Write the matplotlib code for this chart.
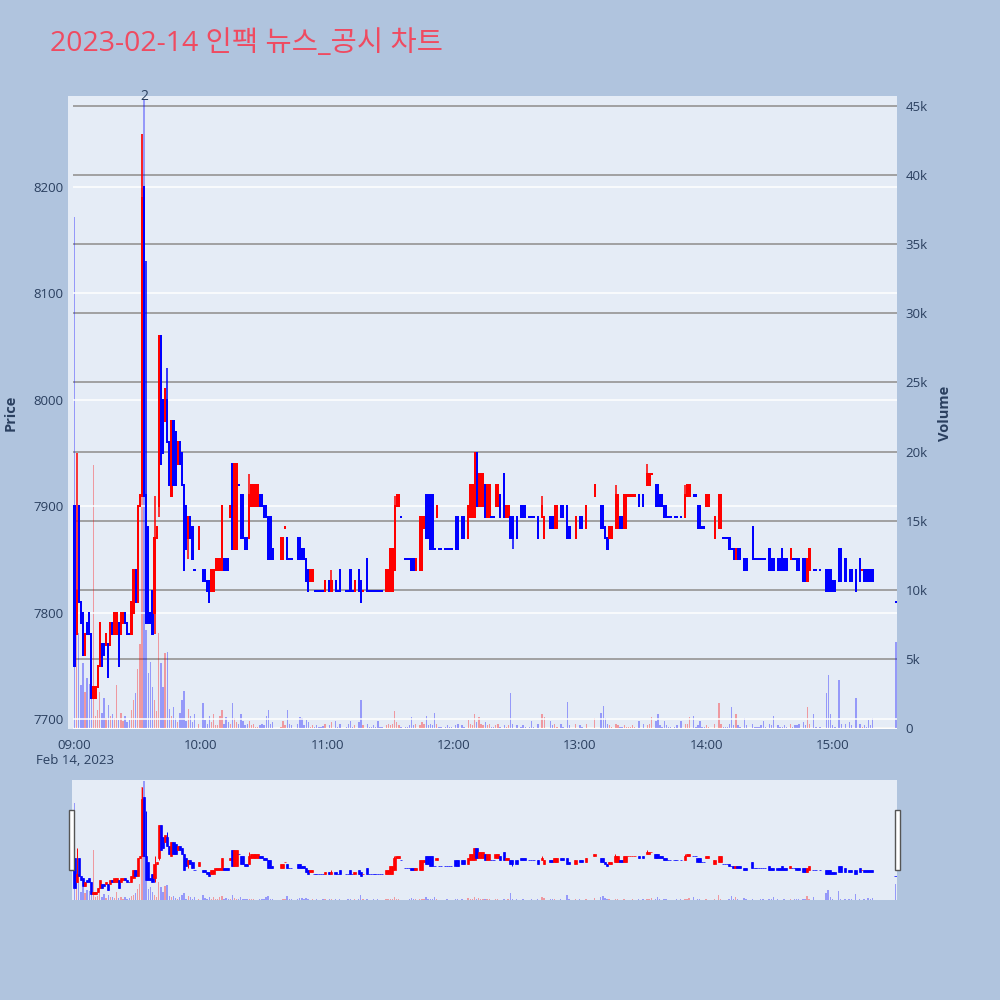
import numpy as np
import matplotlib
matplotlib.use("Agg")
import matplotlib.pyplot as plt
import matplotlib.transforms as mtransforms
from matplotlib.patches import Rectangle
from matplotlib.ticker import FuncFormatter

plt.rcParams["font.family"] = ["Open Sans", "Noto Sans CJK KR", "DejaVu Sans"]

TITLE = "2023-02-14 인팩 뉴스_공시 차트"

# one entry per minute, index 0 = 09:00 (None = no trade in that minute)
opens = [
    7900, 7780, 7900, 7810, 7800, 7760, 7790, 7800, 7780, 7720,
    7720, 7730, 7750, 7770, 7770, 7770, 7770, 7770, 7790, 7780,
    7780, 7790, 7780, 7790, 7800, 7790, 7780, 7780, 7800, 7840,
    7810, 7900, 7910, 8200, 7910, 7880, 7800, 7820, 7800, 7870,
    7900, 8060, 8000, 7980, 8000, 7960, 7910, 7980, 7970, 7940,
    7960, 7950, 7920, 7900, 7870, 7890, 7880, 7840, None, 7860,
    None, 7840, 7840, 7830, 7830, 7820, 7820, 7840, 7840, 7840,
    7840, 7850, 7850, 7850, 7890, 7940, 7860, 7860, 7920, 7910,
    7910, 7870, 7870, 7870, 7900, 7900, 7900, 7900, 7910, 7910,
    7900, 7900, 7890, 7890, 7860, None, None, None, 7850, 7850,
    7880, 7870, 7850, 7850, None, None, 7870, 7870, 7860, 7860,
    7850, 7840, 7830, 7830, 7820, 7820, 7820, 7820, 7820, 7820,
    None, 7830, 7820, None, 7830, 7820, 7840, None, None, 7820,
    7820, 7840, 7820, 7820, None, 7840, 7830, 7820, None, 7850,
    7820, 7820, 7820, 7820, 7820, 7820, 7820, None, 7820, 7820,
    7820, 7820, 7840, 7900, 7900, 7890, None, 7850, 7850, 7850,
    7850, 7850, 7840, None, 7840, 7840, 7880, 7910, 7910, 7910,
    7910, 7860, 7890, 7860, 7860, None, 7860, 7860, 7860, 7860,
    None, 7890, 7890, None, 7890, 7890, None, 7870, 7890, 7890,
    7890, 7950, 7900, 7900, 7900, 7920, 7890, 7890, 7890, 7890,
    7900, 7900, 7910, None, 7930, 7890, 7890, 7890, 7890, None,
    7890, None, 7900, 7900, 7900, None, 7890, 7890, 7890, None,
    7890, None, 7890, 7870, None, None, 7890, 7890, 7880, 7880,
    None, 7900, 7900, None, 7900, 7880, None, None, 7870, None,
    7890, 7890, None, 7880, None, None, None, 7910, None, None,
    7900, 7900, 7880, 7870, 7870, 7870, None, 7880, 7880, 7890,
    7890, 7880, 7880, 7910, 7910, 7910, 7910, None, 7910, None,
    7910, None, 7920, 7920, 7930, None, 7920, 7920, 7910, 7910,
    7900, 7900, 7890, 7890, None, 7890, 7890, None, 7890, None,
    7890, 7910, 7910, None, 7910, 7910, 7900, 7900, 7880, 7880,
    7900, 7900, None, None, 7870, None, 7880, 7880, 7870, 7870,
    7870, 7870, 7860, 7860, 7850, 7860, 7860, None, 7850, 7850,
    None, None, 7880, 7850, 7850, 7850, 7850, 7850, 7850, None,
    7860, 7850, 7850, None, 7850, 7850, 7860, 7850, 7850, None,
    7850, 7850, 7850, 7850, 7850, None, 7850, 7850, 7830, 7840,
    None, 7840, 7840, None, 7840, None, None, 7840, 7840, 7840,
    7830, 7830, None, 7860, 7860, None, 7850, None, 7840, 7840,
    None, 7840, None, 7850, 7840, 7840, 7840, 7840, 7840, 7840,
    None, None, None, None, None, None, None, None, None, None,
    7810,
]
closes = [
    7750, 7820, 7810, 7790, 7760, 7780, 7780, 7780, 7720, 7730,
    7730, 7750, 7790, 7750, 7760, 7780, 7740, 7790, 7780, 7800,
    7800, 7750, 7800, 7800, 7790, 7780, 7780, 7810, 7840, 7810,
    7900, 7910, 8190, 7910, 7790, 7790, 7790, 7780, 7870, 7880,
    8060, 7940, 7950, 8010, 7960, 7920, 7980, 7920, 7920, 7960,
    7940, 7920, 7840, 7860, 7890, 7870, 7850, 7840, None, 7880,
    None, 7830, 7830, 7820, 7810, 7840, 7840, 7850, 7850, 7850,
    7900, 7840, 7840, 7840, 7900, 7860, 7940, 7940, 7920, 7870,
    7870, 7860, 7860, 7910, 7920, 7920, 7920, 7920, 7900, 7900,
    7890, 7890, 7850, 7850, 7850, None, None, None, 7870, 7870,
    7880, 7850, 7850, 7850, None, None, 7850, 7850, 7850, 7850,
    7830, 7820, 7840, 7840, 7820, 7820, 7820, 7820, 7820, 7830,
    None, 7820, 7830, None, 7820, 7820, 7820, None, None, 7820,
    7820, 7820, 7820, 7830, None, 7820, 7810, 7820, None, 7820,
    7820, 7820, 7820, 7820, 7820, 7820, 7820, None, 7840, 7840,
    7860, 7860, 7900, 7910, 7910, 7890, None, 7850, 7850, 7850,
    7840, 7840, 7850, None, 7890, 7890, 7890, 7870, 7870, 7860,
    7860, 7860, 7900, 7860, 7860, None, 7860, 7860, 7860, 7860,
    None, 7860, 7860, None, 7870, 7870, None, 7900, 7920, 7920,
    7950, 7900, 7930, 7930, 7930, 7890, 7920, 7920, 7890, 7890,
    7920, 7920, 7890, None, 7890, 7900, 7900, 7870, 7870, None,
    7870, None, 7890, 7890, 7890, None, 7890, 7890, 7890, None,
    7870, None, 7900, 7890, None, None, 7880, 7880, 7900, 7900,
    None, 7890, 7890, None, 7870, 7870, None, None, 7890, None,
    7880, 7880, None, 7900, None, None, None, 7920, None, None,
    7880, 7880, 7870, 7860, 7880, 7880, None, 7910, 7910, 7880,
    7880, 7910, 7910, 7910, 7910, 7910, 7910, None, 7900, None,
    7900, None, 7930, 7930, 7930, None, 7900, 7900, 7900, 7900,
    7890, 7890, 7890, 7890, None, 7890, 7890, None, 7890, None,
    7910, 7920, 7920, None, 7910, 7910, 7880, 7880, 7880, 7880,
    7910, 7910, None, None, 7890, None, 7910, 7910, 7870, 7870,
    7870, 7860, 7860, 7850, 7860, 7850, 7850, None, 7840, 7840,
    None, None, 7850, 7850, 7850, 7850, 7850, 7850, 7850, None,
    7840, 7840, 7840, None, 7840, 7840, 7840, 7840, 7840, None,
    7860, 7850, 7850, 7840, 7840, None, 7830, 7830, 7850, 7860,
    None, 7840, 7840, None, 7840, None, None, 7820, 7820, 7820,
    7820, 7820, None, 7830, 7830, None, 7830, None, 7830, 7830,
    None, 7820, None, 7830, 7840, 7830, 7830, 7830, 7830, 7830,
    None, None, None, None, None, None, None, None, None, None,
    7810,
]
volumes = [
    37000, 8400, 6900, 3100, 4700, 2600, 3600, 3200, 2400, 19000,
    900, 1300, 2600, 1100, 2200, 700, 1700, 900, 1000, 700,
    3100, 600, 1100, 500, 900, 400, 600, 1300, 2000, 2500,
    4300, 6100, 43000, 45500, 7100, 4000, 4800, 3000, 2000, 1200,
    6900, 4700, 3000, 5400, 5500, 1400, 900, 1500, 700, 400,
    1100, 2000, 2700, 500, 1400, 900, 400, 1000, 0, 300,
    0, 1800, 600, 300, 900, 400, 1000, 200, 200, 900,
    1300, 300, 800, 400, 300, 1800, 700, 400, 300, 1000,
    500, 200, 300, 500, 200, 300, 100, 100, 200, 300,
    200, 900, 1300, 300, 400, 0, 0, 0, 100, 500,
    200, 1300, 300, 200, 0, 0, 300, 800, 700, 200,
    600, 400, 100, 200, 100, 200, 100, 100, 150, 300,
    0, 200, 400, 0, 500, 100, 300, 0, 0, 100,
    300, 500, 100, 200, 0, 400, 2000, 200, 0, 300,
    100, 100, 200, 100, 500, 100, 100, 0, 200, 300,
    200, 300, 1200, 400, 200, 100, 0, 100, 100, 200,
    800, 200, 300, 0, 200, 400, 300, 900, 200, 300,
    200, 1100, 300, 100, 100, 0, 100, 200, 100, 100,
    0, 200, 300, 0, 200, 100, 0, 600, 300, 200,
    1000, 400, 800, 300, 200, 400, 200, 300, 100, 100,
    200, 300, 100, 0, 200, 100, 200, 2500, 300, 0,
    200, 0, 100, 200, 100, 0, 100, 500, 100, 0,
    300, 0, 1000, 800, 0, 0, 500, 200, 300, 100,
    0, 300, 100, 0, 1900, 200, 0, 0, 300, 0,
    200, 100, 0, 300, 0, 0, 0, 700, 0, 0,
    1100, 1600, 700, 300, 200, 100, 0, 300, 200, 100,
    100, 200, 100, 100, 100, 200, 100, 0, 500, 0,
    300, 0, 200, 300, 800, 0, 500, 1000, 200, 100,
    500, 200, 100, 100, 0, 100, 200, 0, 500, 0,
    300, 300, 800, 0, 900, 100, 200, 500, 100, 100,
    200, 100, 0, 0, 300, 0, 1800, 300, 100, 100,
    100, 300, 1500, 200, 1000, 200, 100, 0, 700, 200,
    0, 0, 300, 100, 100, 100, 200, 500, 100, 0,
    300, 200, 900, 0, 200, 100, 100, 200, 100, 0,
    300, 100, 200, 200, 300, 0, 400, 200, 1500, 300,
    0, 1000, 100, 0, 100, 0, 0, 2500, 3800, 1000,
    200, 100, 0, 3500, 300, 0, 300, 0, 400, 200,
    0, 2200, 0, 300, 100, 200, 100, 600, 200, 700,
    0, 0, 0, 0, 0, 0, 0, 0, 0, 0,
    6200,
]
# wicks that reach beyond the candle body (minute: price)
wick_high = {1: 7950, 32: 8250, 34: 8130, 38: 7910, 44: 8030, 83: 7930,
             122: 7840, 152: 7910, 222: 7910, 257: 7920, 272: 7940, 290: 7920}
wick_low = {38: 7780, 40: 7890, 46: 7910, 54: 7850, 208: 7860}

hour_ticks = [0, 60, 120, 180, 240, 300, 360]
hour_labels = ["09:00\nFeb 14, 2023", "10:00", "11:00", "12:00", "13:00", "14:00", "15:00"]
price_ticks = [7700, 7800, 7900, 8000, 8100, 8200]
volume_ticks = [0, 5000, 10000, 15000, 20000, 25000, 30000, 35000, 40000, 45000]
news_minute = 33
news_count = "2"

BG = "#B0C4DE"
PLOT_BG = "#E5ECF6"
TXT = "#2a3f5f"
UP, DOWN = "#FF0000", "#0000FF"

o = np.array([np.nan if v is None else v for v in opens], float)
c = np.array([np.nan if v is None else v for v in closes], float)
vol = np.array(volumes, float)
minutes = np.arange(len(o))
valid = ~np.isnan(o)
hi = np.fmax(o, c)
lo = np.fmin(o, c)
for k, v in wick_high.items():
    hi[k] = v
for k, v in wick_low.items():
    lo[k] = v

# direction: flat candles take the direction from the previous close
up = np.zeros(len(o), bool)
prev_c, prev_up = None, False
for i in minutes[valid]:
    if c[i] != o[i]:
        up[i] = c[i] > o[i]
    elif prev_c is not None and c[i] != prev_c:
        up[i] = c[i] > prev_c
    else:
        up[i] = prev_up
    prev_c, prev_up = c[i], up[i]

cand_col = np.where(up, UP, DOWN)
vol_col = [(1, 0, 0, 0.35) if u else (0, 0, 1, 0.35) for u in up]

XLIM = (-1.2, 390.5)
PLIM = (7690.6, 8285.5)
VLIM = (-72, 45724)


def draw(ax_v, ax_p, pad, edge, wick_lw):
    m = vol > 0
    ax_v.bar(minutes[m], vol[m], width=0.65, color=[vol_col[i] for i in minutes[m]],
             linewidth=0, zorder=2)
    ax_p.vlines(minutes[valid], lo[valid], hi[valid], colors=cand_col[valid],
                linewidth=wick_lw, zorder=3)
    ax_p.bar(minutes[valid], (np.abs(c - o) + 2 * pad)[valid],
             bottom=(np.fmin(o, c) - pad)[valid], width=1.05,
             color=cand_col[valid], edgecolor=cand_col[valid], linewidth=edge, zorder=4)
    ax_v.set_xlim(*XLIM)
    ax_v.set_ylim(*VLIM)
    ax_p.set_ylim(*PLIM)
    for a in (ax_v, ax_p):
        for s in a.spines.values():
            s.set_visible(False)


fig = plt.figure(figsize=(10, 10), dpi=100, facecolor=BG)
fig.patches.append(Rectangle((0.068, 0.271), 0.005, 0.633, transform=fig.transFigure,
                             facecolor=PLOT_BG, edgecolor="none", zorder=0))

# main chart
ax_v = fig.add_axes([0.072, 0.271, 0.825, 0.633])
ax_v.set_facecolor(PLOT_BG)
ax_p = ax_v.twinx()
ax_v.yaxis.tick_right()
ax_p.yaxis.tick_left()
draw(ax_v, ax_p, pad=1.0, edge=0, wick_lw=1.1)

ax_v.set_yticks(volume_ticks)
ax_v.yaxis.set_major_formatter(FuncFormatter(lambda v, _: "0" if v == 0 else f"{int(v / 1000)}k"))
ax_v.yaxis.grid(True, color="#9b9b9b", linewidth=1.3)
ax_v.set_axisbelow(True)
ax_v.axhline(0, color="white", linewidth=2, zorder=1)
ax_p.set_yticks(price_ticks)
ax_p.yaxis.grid(True, color="white", linewidth=1.1)
ax_p.set_axisbelow(True)
ax_v.set_xticks(hour_ticks)
ax_v.set_xticklabels(hour_labels)
for a in (ax_v, ax_p):
    a.tick_params(length=0, labelsize=9.5, labelcolor=TXT, pad=6)
ax_v.tick_params(axis="x", pad=7)

trans = mtransforms.blended_transform_factory(ax_p.transData, ax_p.transAxes)
ax_p.text(news_minute, 1.0, news_count, transform=trans, ha="center", va="center",
          fontsize=10, color=TXT, zorder=6)

fig.text(0.011, 0.587, "Price", rotation=90, ha="center", va="center",
         fontsize=10.5, fontweight="bold", color=TXT)
fig.text(0.945, 0.587, "Volume", rotation=90, ha="center", va="center",
         fontsize=10.5, fontweight="bold", color=TXT)
fig.text(0.050, 0.949, TITLE, fontsize=20.5, color="#EF4B61", ha="left", va="baseline")

# range slider
sl_v = fig.add_axes([0.072, 0.100, 0.8245, 0.120])
sl_v.set_facecolor(PLOT_BG)
sl_p = sl_v.twinx()
draw(sl_v, sl_p, pad=0.5, edge=0.5, wick_lw=0.7)
for a in (sl_v, sl_p):
    a.set_xticks([])
    a.set_yticks([])

for xh in (0.0685, 0.8945):
    fig.patches.append(Rectangle((xh, 0.130), 0.005, 0.060, transform=fig.transFigure,
                                 facecolor="white", edgecolor="#555555", linewidth=1, zorder=5))

fig.savefig("out.png", dpi=100, facecolor=BG)
